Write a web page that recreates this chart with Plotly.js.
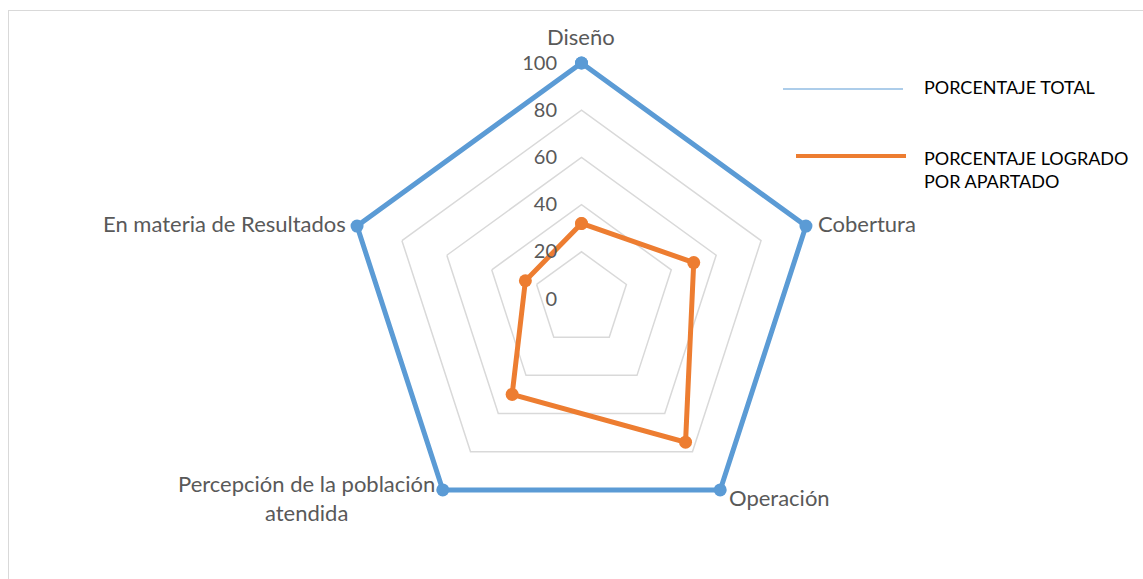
<!DOCTYPE html>
<html>
<head>
<meta charset="utf-8">
<script src="https://cdn.plot.ly/plotly-3.0.1.min.js"></script>
<style>
  html, body { margin:0; padding:0; background:#ffffff; overflow:hidden; }
  #frame { position:absolute; left:8px; top:10px; width:1200px; height:620px; border:1px solid #d9d9d9; box-sizing:border-box; }
  #chart { position:absolute; left:0; top:0; width:1143px; height:579px; }
</style>
</head>
<body>
<div id="frame"></div>
<div id="chart"></div>
<script>
const categories = ['Diseño', 'Cobertura', 'Operación', 'Percepción de la población<br>atendida', 'En materia de Resultados'];
const totalValues = [100, 100, 100, 100, 100];
const achievedValues = [32, 50, 75, 50, 25];
const radialTicks = [0, 20, 40, 60, 80, 100];
const seriesNames = ['PORCENTAJE TOTAL', 'PORCENTAJE LOGRADO<br>POR APARTADO'];

const W = 1143, H = 579;
const CX = 581.5, CY = 299, R100 = 236, RMAX = 104;
const R = R100 * RMAX / 100;
const px = v => v / W, py = v => 1 - v / H;
const closeLoop = arr => arr.concat([arr[0]]);

const traces = [
  {
    type: 'scatterpolar', mode: 'lines+markers', name: seriesNames[0],
    r: closeLoop(totalValues), theta: closeLoop(categories),
    line: { color: '#5B9BD5', width: 5 },
    marker: { color: '#5B9BD5', size: 13 },
    showlegend: false, cliponaxis: false
  },
  {
    type: 'scatterpolar', mode: 'lines+markers', name: seriesNames[1],
    r: closeLoop(achievedValues), theta: closeLoop(categories),
    line: { color: '#ED7D31', width: 5 },
    marker: { color: '#ED7D31', size: 13 },
    showlegend: false, cliponaxis: false
  }
];

const fam = 'Lato, "Open Sans", sans-serif';
const catFont = { family: fam, size: 22, color: '#595959' };
const tickFont = { family: fam, size: 20, color: '#595959' };
const legFont = { family: fam, size: 18, color: '#000000' };

// category label placement (anchor points around the radar)
const catPlacement = [
  { x: 581, y: 36, xanchor: 'center' },
  { x: 816, y: 223, xanchor: 'left' },
  { x: 727, y: 497, xanchor: 'left' },
  { x: 437, y: 498, xanchor: 'right' },
  { x: 348, y: 223, xanchor: 'right' }
];

const annotations = categories.map((c, i) => ({
  xref: 'paper', yref: 'paper', x: px(catPlacement[i].x), y: py(catPlacement[i].y),
  xanchor: catPlacement[i].xanchor, yanchor: 'middle', align: 'center', showarrow: false,
  text: c, font: catFont
})).concat([
  { xref: 'paper', yref: 'paper', x: px(922), y: py(87), xanchor: 'left', yanchor: 'middle', showarrow: false, align: 'left',
    text: seriesNames[0], font: legFont },
  { xref: 'paper', yref: 'paper', x: px(922), y: py(169), xanchor: 'left', yanchor: 'middle', showarrow: false, align: 'left',
    text: seriesNames[1], font: legFont }
]);

const layout = {
  width: W, height: H,
  margin: { l: 0, r: 0, t: 0, b: 0 },
  paper_bgcolor: 'rgba(0,0,0,0)',
  plot_bgcolor: 'rgba(0,0,0,0)',
  showlegend: false,
  polar: {
    domain: { x: [px(CX - R), px(CX + R)], y: [py(CY + R), py(CY - R)] },
    gridshape: 'linear',
    bgcolor: 'rgba(0,0,0,0)',
    radialaxis: {
      range: [0, RMAX], tickvals: radialTicks, angle: 90, side: 'counterclockwise', tickangle: 90,
      showline: false, ticks: 'outside', ticklen: 17, tickcolor: 'rgba(0,0,0,0)', gridcolor: '#d9d9d9', gridwidth: 1.5,
      tickfont: tickFont
    },
    angularaxis: {
      direction: 'clockwise', rotation: 90, showgrid: false, showline: false, ticks: '',
      showticklabels: false
    }
  },
  shapes: [
    { type: 'line', xref: 'paper', yref: 'paper', x0: px(783), x1: px(903), y0: py(89), y1: py(89), line: { color: '#5B9BD5', width: 1 } },
    { type: 'line', xref: 'paper', yref: 'paper', x0: px(796), x1: px(906), y0: py(156), y1: py(156), line: { color: '#ED7D31', width: 4 } }
  ],
  annotations: annotations
};

Plotly.newPlot('chart', traces, layout, { displayModeBar: false, staticPlot: true });
</script>
</body>
</html>
